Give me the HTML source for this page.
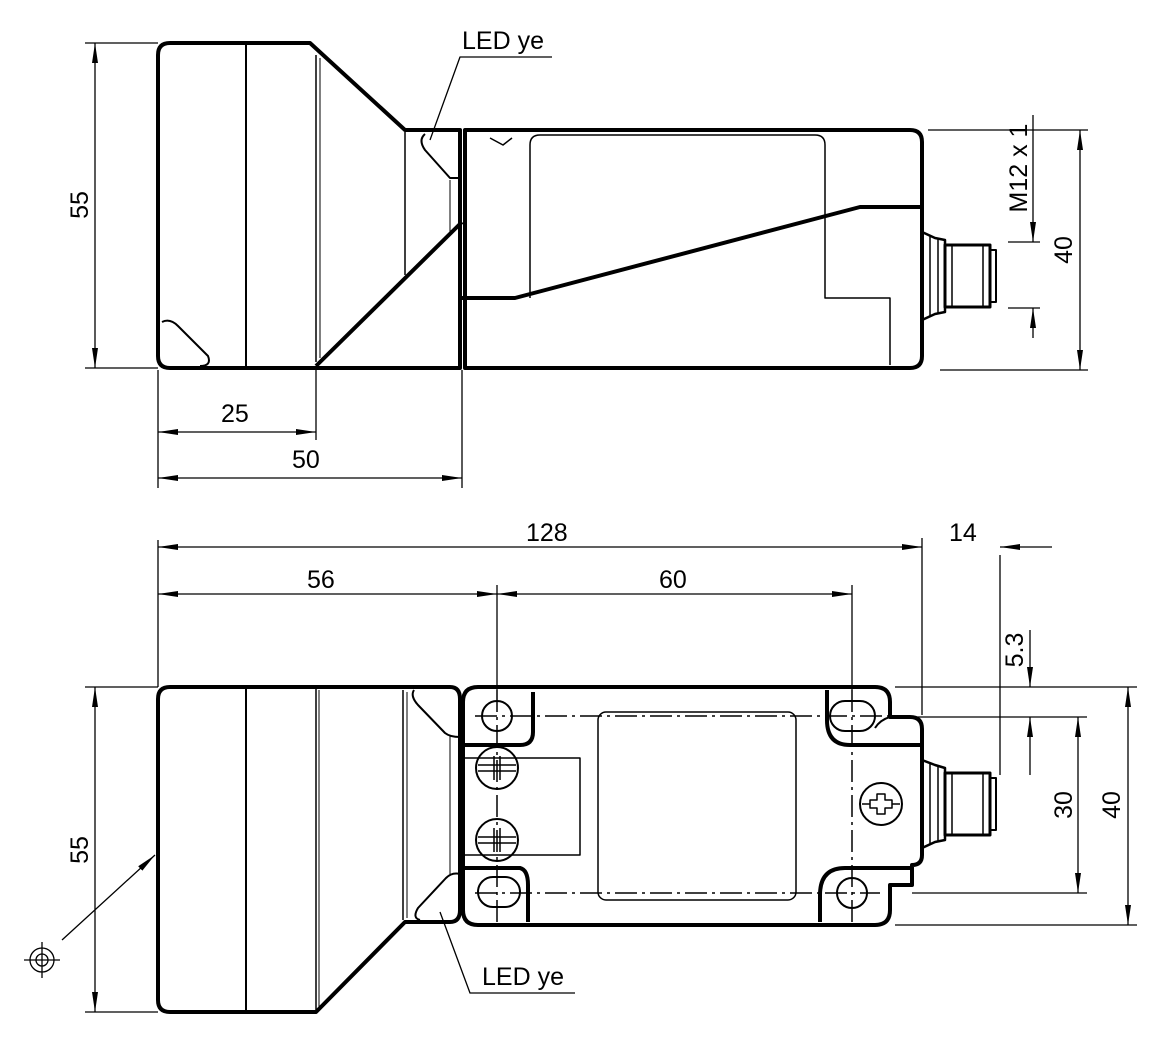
<!DOCTYPE html>
<html><head><meta charset="utf-8"><style>
html,body{margin:0;padding:0;background:#fff}
svg{display:block}
text{font-family:"Liberation Sans",sans-serif;font-size:25px;fill:#000}
</style></head><body>
<svg width="1157" height="1039" viewBox="0 0 1157 1039" xmlns="http://www.w3.org/2000/svg">
<defs>
<marker id="a" viewBox="0 0 20 8" refX="20" refY="4" markerWidth="20" markerHeight="8" markerUnits="userSpaceOnUse" orient="auto-start-reverse"><path d="M0,1 L20,4 L0,7 Z" fill="#000"/></marker>
</defs>
<g fill="none" stroke="#000" stroke-linejoin="round">
<!-- TOP VIEW -->
<path d="M170,43 H310 L405,130 H460 V368 H170 Q158,368 158,356 V55 Q158,43 170,43 Z" stroke-width="4"/>
<path d="M465,130 H910 Q922,130 922,142 V356 Q922,368 910,368 H465 Z" stroke-width="4"/>
<line x1="246" y1="43" x2="246" y2="368" stroke-width="2"/>
<line x1="316" y1="55" x2="316" y2="362" stroke-width="1.5"/>
<line x1="320" y1="58" x2="320" y2="358" stroke-width="1"/>
<line x1="316" y1="366" x2="462" y2="222" stroke-width="4"/>
<line x1="405" y1="132" x2="405" y2="275" stroke-width="1.5"/>
<line x1="450" y1="180" x2="450" y2="235" stroke-width="1"/>
<path d="M425,134 Q418,140 425,150 L450,178 H460" stroke-width="2"/>
<path d="M162,322 Q170,318 178,326 L208,356 Q212,366 200,366" stroke-width="2"/>
<path d="M462,298 H515 L860,207 H922" stroke-width="4"/>
<path d="M530,298 V145 Q530,135 540,135 H815 Q825,135 825,145 V298 H890 V365" stroke-width="1.5"/>
<path d="M490,138 L503,145 L512,138" stroke-width="1.5"/>
<!-- connector top -->
<path d="M922,232 L935,238 L945,240 V312 L935,314 L922,320" stroke-width="2.5"/>
<rect x="945" y="245" width="45" height="62" stroke-width="3"/>
<line x1="952" y1="245" x2="952" y2="307" stroke-width="1.5"/>
<line x1="983" y1="245" x2="983" y2="307" stroke-width="1.5"/>
<line x1="930" y1="236" x2="930" y2="316" stroke-width="1.5"/>
<line x1="938" y1="238" x2="938" y2="314" stroke-width="1.5"/>
<path d="M990,250 H996 V302 H990" stroke-width="2"/>

<!-- BOTTOM VIEW head -->
<path d="M170,687 H450 Q460,687 460,699 V910 Q460,922 450,922 H405 L316,1012 H170 Q158,1012 158,1000 V699 Q158,687 170,687 Z" stroke-width="4"/>
<line x1="246" y1="687" x2="246" y2="1012" stroke-width="2"/>
<line x1="316" y1="687" x2="316" y2="1010" stroke-width="1.5"/>
<line x1="319" y1="690" x2="319" y2="1008" stroke-width="1"/>
<line x1="403" y1="690" x2="403" y2="920" stroke-width="1.5"/>
<line x1="407" y1="692" x2="407" y2="918" stroke-width="1"/>
<line x1="450" y1="735" x2="450" y2="875" stroke-width="1"/>
<path d="M414,690 Q410,696 418,705 L445,733 Q450,737 460,737" stroke-width="2"/>
<path d="M460,874 Q452,872 446,878 L418,908 Q412,918 420,920" stroke-width="2"/>
<!-- flange -->
<path d="M478,687 H875 Q890,687 890,702 V717 H910 Q922,717 922,729 V855 Q922,865 912,865 V885 H890 V910 Q890,925 875,925 H478 Q463,925 463,910 V702 Q463,687 478,687 Z" stroke-width="4"/>
<path d="M463,745 H520 Q533,745 533,732 V692" stroke-width="4"/>
<path d="M463,868 H520 Q528,870 528,885 V922" stroke-width="4"/>
<path d="M827,690 V720 Q827,745 850,745 H922" stroke-width="4"/>
<path d="M890,717 Q880,720 875,728" stroke-width="2"/>
<path d="M912,868 H845 Q820,868 820,895 V922" stroke-width="4"/>
<rect x="598" y="712" width="198" height="188" rx="8" stroke-width="1.5"/>
<path d="M463,758 H580 V855 H463" stroke-width="1.5"/>
<!-- holes -->
<circle cx="497" cy="716" r="15" stroke-width="2"/>
<rect x="478" y="877" width="42" height="30" rx="15" stroke-width="2"/>
<rect x="830" y="701" width="45" height="30" rx="15" stroke-width="2"/>
<circle cx="852" cy="893" r="15" stroke-width="2"/>
<!-- screws -->
<circle cx="497" cy="768" r="21" stroke-width="2"/>
<circle cx="497" cy="840" r="21" stroke-width="2"/>
<circle cx="881" cy="804" r="21" stroke-width="2"/>
<path d="M478,765 H516 M478,771 H516 M494,756 V780 M500,756 V780" stroke-width="1.5"/>
<path d="M478,837 H516 M478,843 H516 M494,828 V852 M500,828 V852" stroke-width="1.5"/>
<path d="M877,794 H885 V800 H892 V808 H885 V814 H877 V808 H870 V800 H877 Z" stroke-width="1.5"/>
<path d="M862,804 H870 M892,804 H900" stroke-width="1.5"/>
<!-- connector bottom -->
<path d="M922,760 L935,765 L945,768 V840 L935,842 L922,848" stroke-width="2.5"/>
<rect x="945" y="773" width="45" height="62" stroke-width="3"/>
<line x1="952" y1="773" x2="952" y2="835" stroke-width="1.5"/>
<line x1="983" y1="773" x2="983" y2="835" stroke-width="1.5"/>
<line x1="930" y1="764" x2="930" y2="844" stroke-width="1.5"/>
<line x1="938" y1="766" x2="938" y2="842" stroke-width="1.5"/>
<path d="M990,778 H996 V830 H990" stroke-width="2"/>
<!-- centre lines -->
<g stroke-width="1.5" stroke-dasharray="22,5,3,5">
<line x1="475" y1="716" x2="905" y2="716"/>
<line x1="475" y1="893" x2="880" y2="893"/>
<line x1="497" y1="690" x2="497" y2="925"/>
<line x1="852" y1="690" x2="852" y2="925"/>
</g>

<!-- DIMENSIONS -->
<g stroke-width="1.3">
<line x1="85" y1="43" x2="158" y2="43"/><line x1="85" y1="368" x2="158" y2="368"/>
<line x1="95" y1="43" x2="95" y2="368" marker-start="url(#a)" marker-end="url(#a)"/>
<line x1="158" y1="370" x2="158" y2="488"/><line x1="316" y1="370" x2="316" y2="440"/><line x1="462" y1="370" x2="462" y2="488"/>
<line x1="158" y1="432" x2="316" y2="432" marker-start="url(#a)" marker-end="url(#a)"/>
<line x1="158" y1="478" x2="462" y2="478" marker-start="url(#a)" marker-end="url(#a)"/>
<polyline points="430,140 460,57 552,57"/>
<line x1="928" y1="130" x2="1010" y2="130"/><line x1="1020" y1="130" x2="1088" y2="130"/>
<line x1="940" y1="370" x2="1088" y2="370"/>
<line x1="1080" y1="130" x2="1080" y2="370" marker-start="url(#a)" marker-end="url(#a)"/>
<line x1="1008" y1="242" x2="1040" y2="242"/><line x1="1008" y1="308" x2="1040" y2="308"/>
<line x1="1033" y1="115" x2="1033" y2="242" marker-end="url(#a)"/>
<line x1="1033" y1="338" x2="1033" y2="308" marker-end="url(#a)"/>
<line x1="158" y1="540" x2="158" y2="687"/>
<line x1="158" y1="547" x2="922" y2="547" marker-start="url(#a)" marker-end="url(#a)"/>
<line x1="922" y1="538" x2="922" y2="715"/>
<line x1="1000" y1="555" x2="1000" y2="775"/>
<line x1="1000" y1="547" x2="1052" y2="547"/>
<line x1="158" y1="594" x2="497" y2="594" marker-start="url(#a)" marker-end="url(#a)"/>
<line x1="497" y1="594" x2="852" y2="594" marker-start="url(#a)" marker-end="url(#a)"/>
<line x1="497" y1="585" x2="497" y2="690"/><line x1="852" y1="585" x2="852" y2="690"/>
<line x1="85" y1="687" x2="158" y2="687"/><line x1="85" y1="1012" x2="158" y2="1012"/>
<line x1="95" y1="687" x2="95" y2="1012" marker-start="url(#a)" marker-end="url(#a)"/>
<line x1="895" y1="687" x2="1137" y2="687"/>
<line x1="895" y1="925" x2="1137" y2="925"/>
<line x1="890" y1="717" x2="1087" y2="717"/>
<line x1="912" y1="893" x2="1087" y2="893"/>
<line x1="1128" y1="687" x2="1128" y2="925" marker-start="url(#a)" marker-end="url(#a)"/>
<line x1="1078" y1="717" x2="1078" y2="893" marker-start="url(#a)" marker-end="url(#a)"/>
<line x1="1030" y1="630" x2="1030" y2="687" marker-end="url(#a)"/>
<line x1="1030" y1="775" x2="1030" y2="717" marker-end="url(#a)"/>
<polyline points="440,912 470,993 575,993"/>
<line x1="62" y1="940" x2="155" y2="855" marker-end="url(#a)"/>
<circle cx="42" cy="960" r="12"/><circle cx="42" cy="960" r="6"/>
<line x1="24" y1="960" x2="60" y2="960"/><line x1="42" y1="942" x2="42" y2="978"/>
</g>
<path d="M1000,547 L1020,544 L1020,550 Z" fill="#000" stroke="none"/>
</g>
<!-- TEXT -->
<text x="462" y="49">LED ye</text>
<text x="221" y="422">25</text>
<text x="292" y="468">50</text>
<text x="88" y="205" transform="rotate(-90 88 205)" text-anchor="middle">55</text>
<text x="1027" y="168" transform="rotate(-90 1027 168)" text-anchor="middle">M12 x 1</text>
<text x="1072" y="250" transform="rotate(-90 1072 250)" text-anchor="middle">40</text>
<text x="526" y="541">128</text>
<text x="949" y="541">14</text>
<text x="307" y="588">56</text>
<text x="659" y="588">60</text>
<text x="1023" y="650" transform="rotate(-90 1023 650)" text-anchor="middle">5.3</text>
<text x="88" y="850" transform="rotate(-90 88 850)" text-anchor="middle">55</text>
<text x="1072" y="805" transform="rotate(-90 1072 805)" text-anchor="middle">30</text>
<text x="1120" y="805" transform="rotate(-90 1120 805)" text-anchor="middle">40</text>
<text x="482" y="985">LED ye</text>
</svg>
</body></html>
